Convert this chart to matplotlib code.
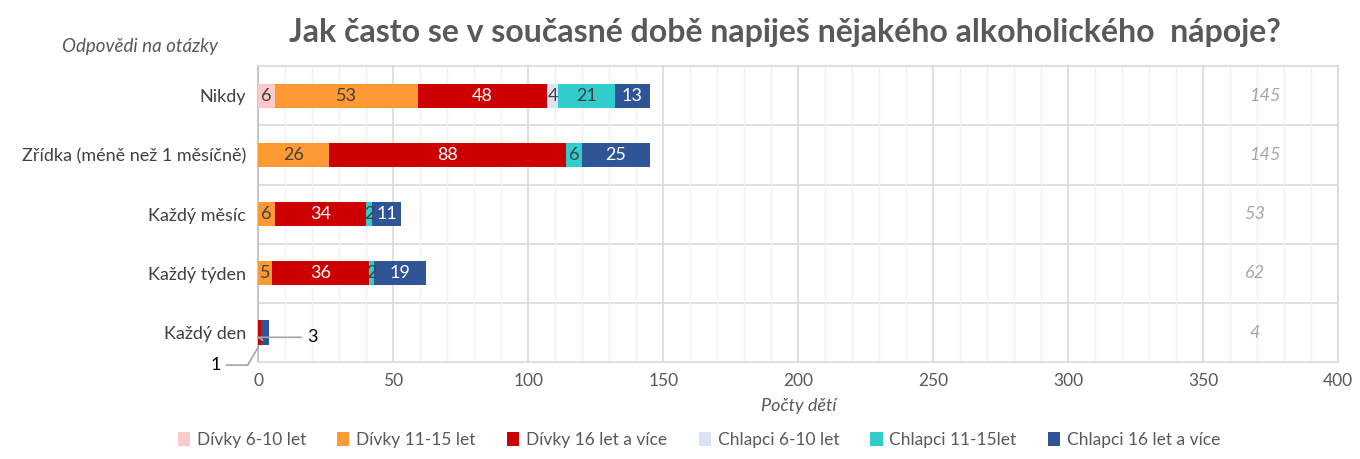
# Graf: Jak často se v současné době napiješ nějakého alkoholického nápoje?
import numpy as np
import matplotlib.pyplot as plt
from matplotlib.ticker import MultipleLocator

plt.rcParams['font.family'] = ['Lato', 'DejaVu Sans']

kategorie = ['Nikdy', 'Zřídka (méně než 1 měsíčně)', 'Každý měsíc', 'Každý týden', 'Každý den']
skupiny = ['Dívky 6-10 let', 'Dívky 11-15 let', 'Dívky 16 let a více',
           'Chlapci 6-10 let', 'Chlapci 11-15let', 'Chlapci 16 let a více']
divky_6_10 = [6, 0, 0, 0, 0]
divky_11_15 = [53, 26, 6, 5, 0]
divky_16 = [48, 88, 34, 36, 1]
chlapci_6_10 = [4, 0, 0, 0, 0]
chlapci_11_15 = [21, 6, 2, 2, 0]
chlapci_16 = [13, 25, 11, 19, 3]

barvy = ['#FFC9C9', '#FF9933', '#CC0000', '#DAE3F3', '#33CCCC', '#2F5597']
barvy_textu = ['#404040', '#404040', 'white', '#404040', '#404040', 'white']

serie = [divky_6_10, divky_11_15, divky_16, chlapci_6_10, chlapci_11_15, chlapci_16]
soucty = np.sum(serie, axis=0)

fig = plt.figure(figsize=(13.6, 4.59), dpi=100)
ax = fig.add_axes([0.19, 0.211, 0.794, 0.645])

y = np.arange(len(kategorie))
zleva = np.zeros(len(kategorie))
for hodnoty, nazev, barva, tb in zip(serie, skupiny, barvy, barvy_textu):
    h = np.array(hodnoty, dtype=float)
    bary = ax.barh(y, h, left=zleva, height=0.41, color=barva, label=nazev, zorder=3)
    for i, b in enumerate(bary):
        if h[i] > 0 and i < 4:
            ax.text(zleva[i] + h[i] / 2, y[i], f'{int(h[i])}', ha='center', va='center',
                    color=tb, fontsize=13, zorder=4)
    zleva += h

# popisky s odkazovou čarou pro "Každý den"
i = 4
x_d16 = divky_11_15[i] + divky_6_10[i] + divky_16[i] / 2
x_c16 = soucty[i] - chlapci_16[i] / 2
ax.annotate(f'{divky_16[i]}', xy=(x_d16, y[i] + 0.2), xytext=(-14, y[i] + 0.55),
            textcoords='data', ha='right', va='center', fontsize=13, color='black',
            arrowprops=dict(arrowstyle='-', color='#A6A6A6', lw=1.2,
                            connectionstyle='angle,angleA=0,angleB=60,rad=0'),
            annotation_clip=False, zorder=5)
ax.annotate(f'{chlapci_16[i]}', xy=(x_c16, y[i] + 0.15), xytext=(18, y[i] + 0.08),
            textcoords='data', ha='left', va='center', fontsize=13, color='black',
            arrowprops=dict(arrowstyle='-', color='#A6A6A6', lw=1.2,
                            connectionstyle='angle,angleA=0,angleB=-30,rad=0'),
            zorder=5)

# součty vpravo
for i, s in enumerate(soucty):
    ax.text(373 if s > 100 else 369, y[i], f'{int(s)}', ha='center', va='center',
            color='#A6A6A6', fontsize=13, style='italic')

ax.set_xlim(0, 400)
ax.set_ylim(4.5, -0.5)
ax.set_yticks(y)
ax.set_yticklabels(kategorie, fontsize=13, color='#404040')
ax.xaxis.set_major_locator(MultipleLocator(50))
ax.xaxis.set_minor_locator(MultipleLocator(10))
ax.tick_params(axis='x', which='both', length=0, labelsize=12.5, labelcolor='#595959', pad=8)
ax.tick_params(axis='y', length=0, pad=9)
ax.grid(axis='x', which='major', color='#D9D9D9', lw=1.2, zorder=0)
ax.grid(axis='x', which='minor', color='#F0F0F0', lw=1, zorder=0)
for hr in np.arange(0.5, len(kategorie) - 1, 1):
    ax.axhline(hr, color='#D9D9D9', lw=1.2, zorder=1)
for s in ax.spines.values():
    s.set_color('#D9D9D9')
    s.set_linewidth(1.2)
ax.spines['left'].set_color('#BFBFBF')

ax.set_xlabel('Počty dětí', fontsize=13, style='italic', color='#595959', labelpad=6)
fig.text(0.103, 0.898, 'Odpovědi na otázky', fontsize=13.5, style='italic',
         color='#595959', ha='center', va='center')
fig.text(0.577, 0.93, 'Jak často se v současné době napiješ nějakého alkoholického  nápoje?',
         fontsize=23, fontweight='bold', color='#595959', ha='center', va='center')

fig.legend(loc='lower center', bbox_to_anchor=(0.514, -0.01), ncol=6, frameon=False,
           fontsize=12.5, labelcolor='#595959', handlelength=0.7, handleheight=0.9,
           handletextpad=0.4, columnspacing=1.8)

fig.savefig('out.png', dpi=100)
